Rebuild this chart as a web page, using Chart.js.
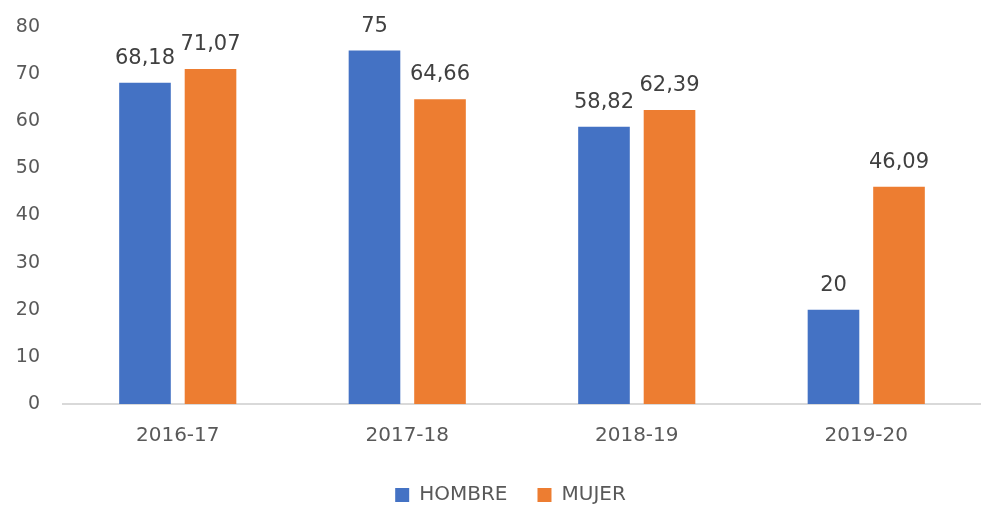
<!DOCTYPE html>
<html>
<head>
<meta charset="utf-8">
<script src="https://cdn.jsdelivr.net/npm/chart.js@4/dist/chart.umd.min.js"></script>
<style>
  html, body { margin: 0; padding: 0; background: #fff; }
  #wrap { width: 981px; height: 505px; }
</style>
</head>
<body>
<div id="wrap"><canvas id="grafico"></canvas></div>
<script>
// datos
const periodos = ['2016-17', '2017-18', '2018-19', '2019-20'];
const hombre = [68.18, 75, 58.82, 20];
const mujer = [71.07, 64.66, 62.39, 46.09];
const ticksY = [0, 10, 20, 30, 40, 50, 60, 70, 80];

const fuente = '"DejaVu Sans", "Open Sans", sans-serif';

// etiquetas encima de cada barra
const etiquetas = {
    id: 'etiquetas',
    afterDatasetsDraw(chart) {
        const ctx = chart.ctx;
        ctx.save();
        ctx.font = '21px ' + fuente;
        ctx.fillStyle = '#404040';
        ctx.textAlign = 'center';
        ctx.textBaseline = 'alphabetic';
        chart.data.datasets.forEach((ds, i) => {
            chart.getDatasetMeta(i).data.forEach((bar, j) => {
                const txt = String(ds.data[j]).replace('.', ',');
                ctx.fillText(txt, bar.x, bar.y - 19);
            });
        });
        ctx.restore();
    }
};

// mueve un poco la leyenda a la derecha
const moverLeyenda = {
    id: 'moverLeyenda',
    afterLayout(chart) {
        chart.legend.left += 12;
        chart.legend.right += 12;
    }
};

const ctx = document.getElementById('grafico').getContext('2d');
new Chart(ctx, {
    type: 'bar',
    data: {
        labels: periodos,
        datasets: [
            { label: 'HOMBRE', data: hombre, backgroundColor: '#4472C4' },
            { label: 'MUJER', data: mujer, backgroundColor: '#ED7D31' }
        ]
    },
    options: {
        responsive: true,
        maintainAspectRatio: false,
        animation: false,
        datasets: { bar: { categoryPercentage: 0.571, barPercentage: 0.788 } },
        layout: { padding: { top: 27, right: -6, left: 10, bottom: -10 } },
        plugins: {
            legend: {
                position: 'bottom',
                labels: {
                    boxWidth: 14, boxHeight: 14, padding: 30,
                    color: '#595959',
                    font: { size: 20, family: fuente }
                }
            },
            tooltip: { enabled: false }
        },
        scales: {
            x: {
                afterFit(axis) { axis.height = 51; },
                grid: { display: false, drawTicks: false },
                border: { display: true, color: '#D9D9D9', width: 2 },
                ticks: { color: '#595959', padding: 20, font: { size: 20, family: fuente } }
            },
            y: {
                min: ticksY[0], max: ticksY[ticksY.length - 1],
                afterBuildTicks(axis) { axis.ticks = ticksY.map(v => ({ value: v })); },
                afterFit(axis) {
                    axis.width = 53;
                    axis.paddingTop = 0;
                    axis.paddingBottom = 0;
                },
                grid: { display: false, drawTicks: false },
                border: { display: false },
                ticks: { color: '#595959', padding: 23, font: { size: 19, family: fuente } }
            }
        }
    },
    plugins: [etiquetas, moverLeyenda]
});
</script>
</body>
</html>
